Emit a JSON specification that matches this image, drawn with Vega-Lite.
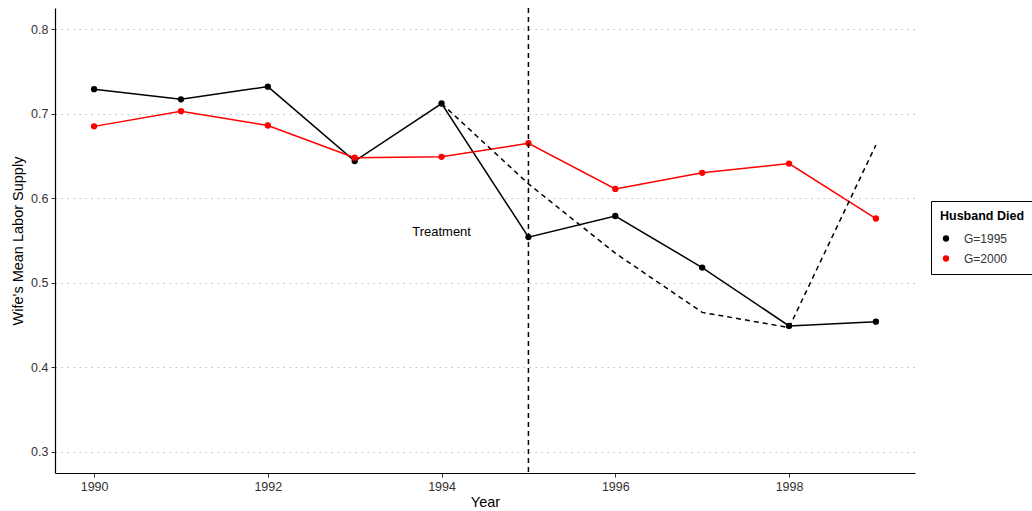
{
  "$schema": "https://vega.github.io/schema/vega-lite/v6.json",
  "width": 860,
  "height": 465,
  "autosize": {"type": "none"},
  "padding": {"left": 55, "top": 8, "right": 117, "bottom": 38},
  "background": "white",
  "config": {
    "font": "Liberation Sans",
    "view": {"stroke": null},
    "axis": {
      "domainColor": "black",
      "domainWidth": 1.2,
      "tickColor": "#333333",
      "tickSize": 4,
      "labelColor": "#333333",
      "labelFontSize": 12.5,
      "labelFont": "Liberation Sans",
      "titleFont": "Liberation Sans",
      "titleFontSize": 14.5,
      "titleFontWeight": "normal",
      "titleColor": "black"
    }
  },
  "datasets": {
    "obs": [
      {"year": 1990, "value": 0.729, "group": "G=1995"},
      {"year": 1991, "value": 0.717, "group": "G=1995"},
      {"year": 1992, "value": 0.732, "group": "G=1995"},
      {"year": 1993, "value": 0.644, "group": "G=1995"},
      {"year": 1994, "value": 0.712, "group": "G=1995"},
      {"year": 1995, "value": 0.554, "group": "G=1995"},
      {"year": 1996, "value": 0.579, "group": "G=1995"},
      {"year": 1997, "value": 0.518, "group": "G=1995"},
      {"year": 1998, "value": 0.449, "group": "G=1995"},
      {"year": 1999, "value": 0.454, "group": "G=1995"},
      {"year": 1990, "value": 0.685, "group": "G=2000"},
      {"year": 1991, "value": 0.703, "group": "G=2000"},
      {"year": 1992, "value": 0.686, "group": "G=2000"},
      {"year": 1993, "value": 0.648, "group": "G=2000"},
      {"year": 1994, "value": 0.649, "group": "G=2000"},
      {"year": 1995, "value": 0.665, "group": "G=2000"},
      {"year": 1996, "value": 0.611, "group": "G=2000"},
      {"year": 1997, "value": 0.630, "group": "G=2000"},
      {"year": 1998, "value": 0.641, "group": "G=2000"},
      {"year": 1999, "value": 0.576, "group": "G=2000"}
    ],
    "cf": [
      {"year": 1994, "value": 0.712},
      {"year": 1995, "value": 0.617},
      {"year": 1996, "value": 0.535},
      {"year": 1997, "value": 0.465},
      {"year": 1998, "value": 0.447},
      {"year": 1999, "value": 0.663}
    ],
    "ann": [
      {"year": 1994, "value": 0.56, "label": "Treatment"}
    ]
  },
  "layer": [
    {
      "data": {"name": "obs"},
      "mark": {"type": "line", "strokeWidth": 1.5},
      "encoding": {
        "x": {"field": "year", "type": "quantitative", "scale": {"domain": [1989.55, 1999.45], "nice": false, "zero": false},
          "axis": {"title": "Year", "values": [1990, 1992, 1994, 1996, 1998], "format": "d", "grid": false, "labelPadding": 3, "titlePadding": 3, "titleAnchor": "middle"}},
        "y": {"field": "value", "type": "quantitative", "scale": {"domain": [0.275, 0.825], "nice": false, "zero": false},
          "axis": {"title": "Wife's Mean Labor Supply", "values": [0.3, 0.4, 0.5, 0.6, 0.7, 0.8], "format": ".1f", "grid": true, "gridColor": "#bbbbbb", "gridDash": [1.5, 4.5], "gridWidth": 1, "labelPadding": 3, "titlePadding": 5}},
        "stroke": {"field": "group", "type": "nominal", "scale": {"domain": ["G=1995", "G=2000"], "range": ["#000000", "#ff0000"]}, "legend": null}
      }
    },
    {
      "data": {"name": "cf"},
      "mark": {"type": "line", "strokeWidth": 1.5, "strokeDash": [5, 4], "color": "black"},
      "encoding": {
        "x": {"field": "year", "type": "quantitative"},
        "y": {"field": "value", "type": "quantitative"}
      }
    },
    {
      "data": {"name": "obs"},
      "mark": {"type": "point", "filled": true, "size": 40, "opacity": 1},
      "encoding": {
        "x": {"field": "year", "type": "quantitative"},
        "y": {"field": "value", "type": "quantitative"},
        "color": {"field": "group", "type": "nominal", "scale": {"domain": ["G=1995", "G=2000"], "range": ["#000000", "#ff0000"]},
          "legend": {"title": "Husband Died", "orient": "none", "legendX": 876, "legendY": 193, "padding": 9, "strokeColor": "black", "titleFontSize": 12.5, "titleFontWeight": "bold", "titleColor": "black", "titlePadding": 10, "labelFontSize": 12, "labelColor": "#333333", "symbolType": "circle", "symbolSize": 40, "rowPadding": 8, "labelOffset": 12}}
      }
    },
    {
      "data": {"values": [{"x": 1995}]},
      "mark": {"type": "rule", "strokeDash": [5, 4], "strokeWidth": 1.5, "color": "black"},
      "encoding": {"x": {"field": "x", "type": "quantitative"}}
    },
    {
      "data": {"name": "ann"},
      "mark": {"type": "text", "fontSize": 13, "color": "black", "align": "center", "baseline": "middle"},
      "encoding": {
        "x": {"field": "year", "type": "quantitative"},
        "y": {"field": "value", "type": "quantitative"},
        "text": {"field": "label"}
      }
    }
  ],
  "resolve": {"scale": {"color": "independent", "stroke": "independent"}}
}
